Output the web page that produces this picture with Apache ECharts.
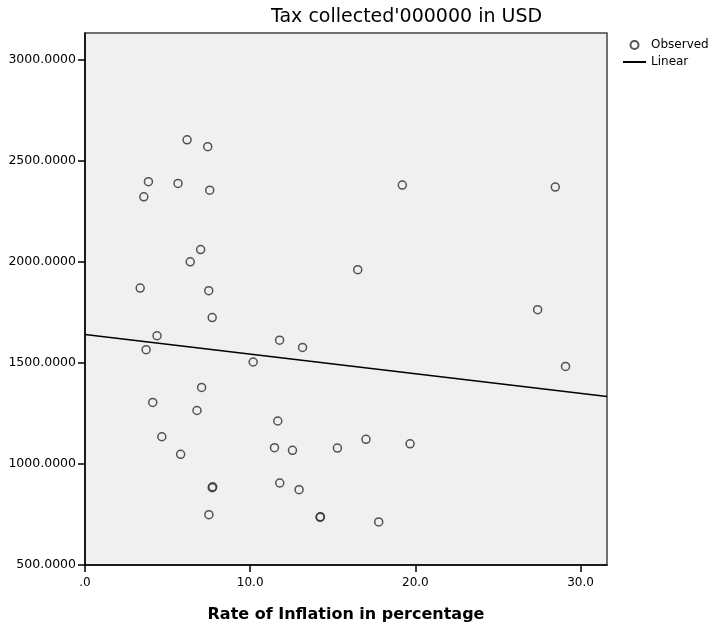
<!DOCTYPE html>
<html>
<head>
<meta charset="utf-8">
<script src="https://cdn.jsdelivr.net/npm/echarts@6/dist/echarts.min.js"></script>
<style>
  html, body { margin: 0; padding: 0; background: #fff; }
  #chart { width: 712px; height: 629px; }
</style>
</head>
<body>
<div id="chart"></div>
<script>
// Rate of inflation (%) for each observation
const inflation = [
  6.18, 7.43, 3.84, 5.63, 7.55, 3.56, 19.21, 28.47, 7.00, 6.37,
  16.51, 3.34, 7.49, 27.40, 7.70, 4.36, 11.78, 3.70, 13.17, 10.18,
  29.09, 7.06, 4.10, 6.78, 11.67, 4.65, 11.47, 12.56, 15.28, 17.01,
  19.68, 5.79, 7.70, 7.73, 11.79, 12.96, 14.23, 14.25, 7.50, 17.78
];
// Tax collected ('000000 USD) for the same observations
const taxCollected = [
  2605, 2571, 2398, 2389, 2356, 2323, 2381, 2371, 2062, 2001,
  1962, 1871, 1858, 1764, 1725, 1635, 1613, 1566, 1577, 1505,
  1483, 1379, 1305, 1265, 1213, 1135, 1081, 1068, 1079, 1122,
  1100, 1048, 883, 887, 906, 873, 736, 739, 749, 713
];
// Linear fit, evaluated at the two ends of the x range
const fitX = [0, 31.6];
const fitY = [1641.6, 1334.1];

// Axis ticks and labels
const xTicks = [0, 10, 20, 30];
const xTickLabels = ['.0', '10.0', '20.0', '30.0'];
const yTicks = [500, 1000, 1500, 2000, 2500, 3000];
const yTickLabels = ['500.0000', '1000.0000', '1500.0000', '2000.0000', '2500.0000', '3000.0000'];

const FONT = 'DejaVu Sans';

const chart = echarts.init(document.getElementById('chart'), null, { renderer: 'canvas' });

chart.setOption({
  animation: false,
  backgroundColor: '#ffffff',
  title: {
    text: "Tax collected'000000 in USD",
    left: 266,
    top: 3,
    textStyle: { fontFamily: FONT, fontSize: 19, fontWeight: 'normal', color: '#000' }
  },
  legend: {
    orient: 'vertical',
    left: 622,
    top: 39,
    padding: 0,
    itemWidth: 23,
    itemHeight: 8,
    itemGap: 5,
    textStyle: { fontFamily: FONT, fontSize: 12, color: '#000' },
    data: [
      { name: 'Observed' },
      { name: 'Linear', itemStyle: { opacity: 0 } }
    ]
  },
  grid: {
    left: 85,
    top: 33,
    width: 522,
    height: 532,
    show: true,
    backgroundColor: '#f0f0f0',
    borderColor: '#444',
    borderWidth: 1.5
  },
  xAxis: {
    type: 'value',
    min: 0,
    max: 31.6,
    interval: 10,
    name: 'Rate of Inflation in percentage',
    nameLocation: 'middle',
    nameGap: 42,
    nameTextStyle: { fontFamily: FONT, fontSize: 16, fontWeight: 'bold', color: '#000' },
    axisLine: { show: true, onZero: false, lineStyle: { color: '#000', width: 1.5 } },
    axisTick: { show: true, length: 7, customValues: xTicks, lineStyle: { color: '#000', width: 1.5 } },
    axisLabel: {
      customValues: xTicks,
      margin: 12,
      fontFamily: FONT, fontSize: 12, color: '#000',
      formatter: v => xTickLabels[xTicks.indexOf(v)] ?? ''
    },
    splitLine: { show: false }
  },
  yAxis: {
    type: 'value',
    min: 500,
    max: 3134,
    interval: 500,
    axisLine: { show: true, onZero: false, lineStyle: { color: '#000', width: 1.5 } },
    axisTick: { show: true, length: 7, customValues: yTicks, lineStyle: { color: '#000', width: 1.5 } },
    axisLabel: {
      customValues: yTicks,
      margin: 9,
      fontFamily: FONT, fontSize: 12.5, color: '#000',
      formatter: v => yTickLabels[yTicks.indexOf(v)] ?? ''
    },
    splitLine: { show: false }
  },
  series: [
    {
      name: 'Observed',
      type: 'scatter',
      symbol: 'circle',
      symbolSize: 8,
      itemStyle: { color: 'rgba(0,0,0,0)', borderColor: '#2a2a2a', borderWidth: 1.5 },
      data: inflation.map((x, i) => [x, taxCollected[i]])
    },
    {
      name: 'Linear',
      type: 'line',
      symbol: 'none',
      itemStyle: { color: '#000' },
      lineStyle: { color: '#000', width: 1.5 },
      data: fitX.map((x, i) => [x, fitY[i]])
    }
  ]
});
</script>
</body>
</html>
